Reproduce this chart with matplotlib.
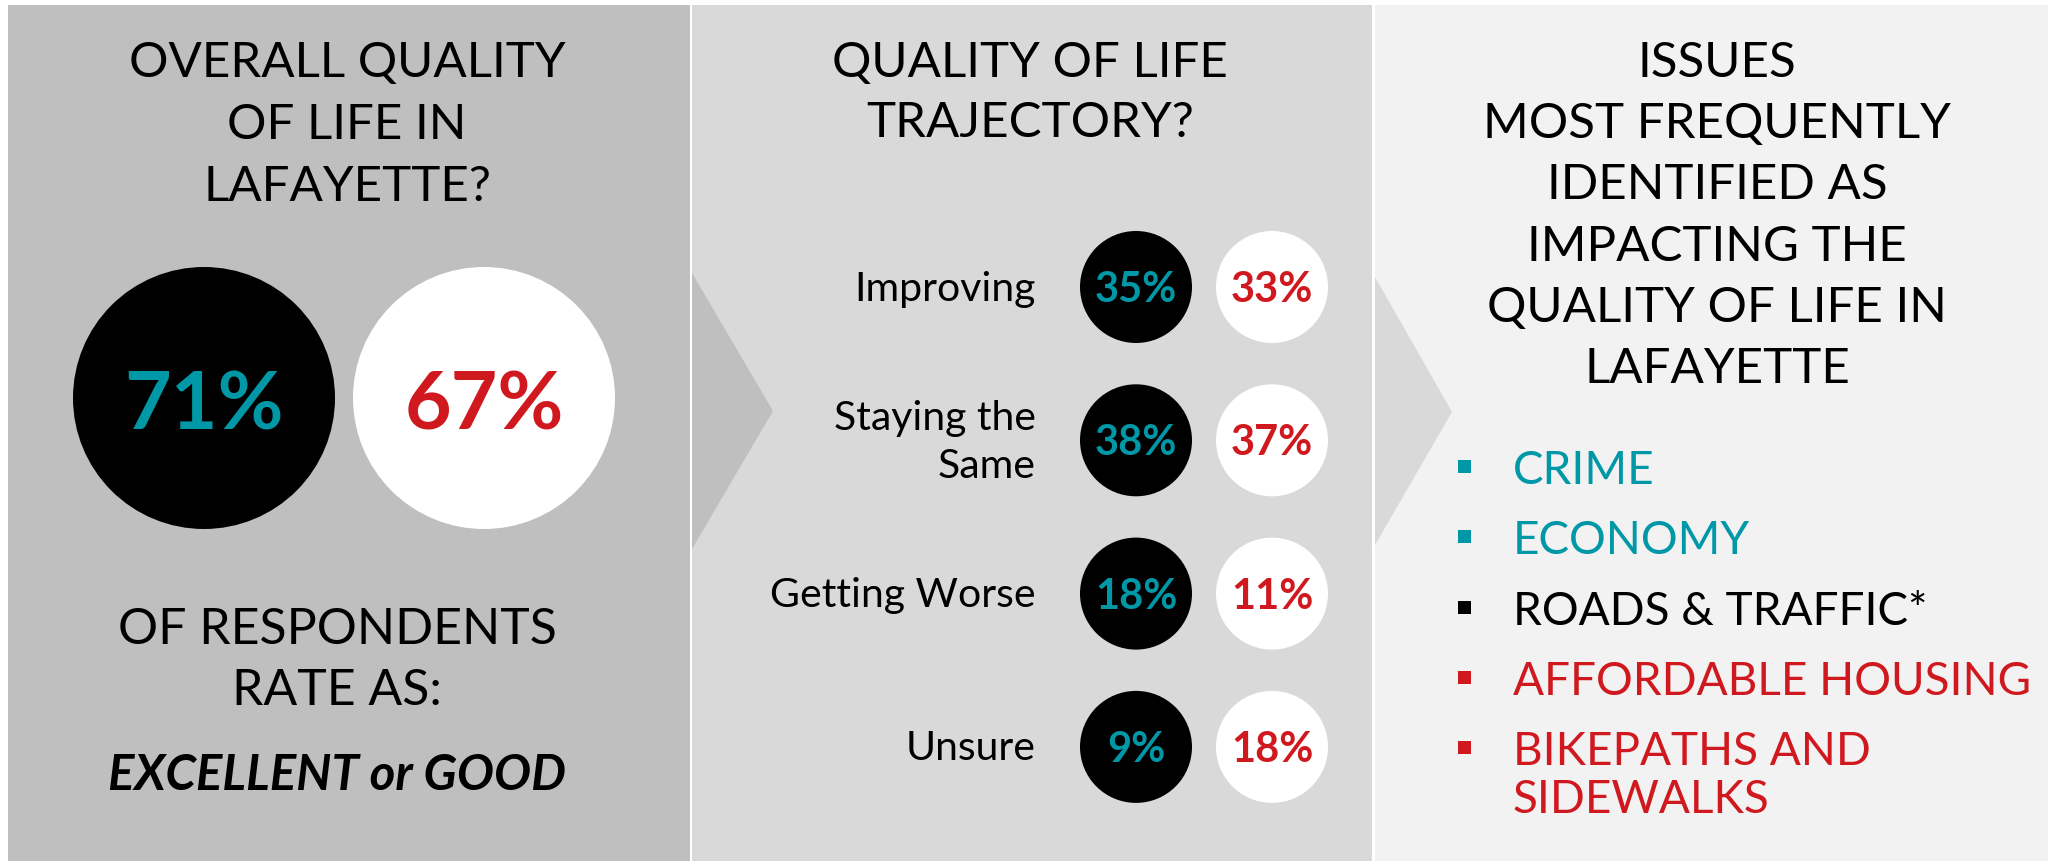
import matplotlib
matplotlib.use("Agg")
import matplotlib.pyplot as plt
from matplotlib.patches import Rectangle, Circle, Polygon

plt.rcParams["font.family"] = ["Lato", "DejaVu Sans"]

# --- data ---
overall_title = ["OVERALL QUALITY", "OF LIFE IN", "LAFAYETTE?"]
overall_values = ["71%", "67%"]
overall_caption = ["OF RESPONDENTS", "RATE AS:"]
overall_answer = "EXCELLENT or GOOD"

trajectory_title = ["QUALITY OF LIFE", "TRAJECTORY?"]
trajectory_labels = ["Improving", "Staying the\nSame", "Getting Worse", "Unsure"]
trajectory_black = [35, 38, 18, 9]
trajectory_white = [33, 37, 11, 18]

issues_title = ["ISSUES", "MOST FREQUENTLY", "IDENTIFIED AS",
                "IMPACTING THE", "QUALITY OF LIFE IN", "LAFAYETTE"]
issues = ["CRIME", "ECONOMY", "ROADS & TRAFFIC*",
          "AFFORDABLE HOUSING", "BIKEPATHS AND\nSIDEWALKS"]
issue_groups = ["teal", "teal", "black", "red", "red"]

# --- styles ---
TEAL = "#0097a7"
RED = "#d0191f"
colors = {"teal": TEAL, "black": "#000000", "red": RED}
P1, P2, P3 = "#bfbfbf", "#d9d9d9", "#f2f2f2"
TITLE_FS = 35.5

fig = plt.figure(figsize=(20.48, 8.61), dpi=100)
ax = fig.add_axes([0, 0, 1, 1])
ax.set_xlim(0, 2048)
ax.set_ylim(861, 0)
ax.axis("off")

# Panels
ax.add_patch(Rectangle((8, 5), 682, 856, color=P1, lw=0))
ax.add_patch(Rectangle((692, 5), 680, 856, color=P2, lw=0))
ax.add_patch(Rectangle((1375, 5), 673, 856, color=P3, lw=0))

# Chevron arrows between panels
ax.add_patch(Polygon([(692, 273), (773, 411), (692, 549)], color=P1, lw=0))
ax.add_patch(Polygon([(1375, 277), (1452, 412), (1375, 545)], color=P2, lw=0))

# ---- Panel 1 ----
for i, line in enumerate(overall_title):
    ax.text(347, 77 + 62 * i, line, ha="center", va="baseline",
            fontsize=TITLE_FS)

circle_r = 131
for i, (val, fc, tc) in enumerate(zip(overall_values, ["black", "white"],
                                      [TEAL, RED])):
    cx = 204 + 280 * i
    ax.add_patch(Circle((cx, 398), circle_r, color=fc, lw=0))
    ax.text(cx, 430, val, ha="center", va="baseline", fontsize=58,
            fontweight="bold", color=tc)

for i, line in enumerate(overall_caption):
    ax.text(337, 644 + 61 * i, line, ha="center", va="baseline", fontsize=36)
ax.text(337, 790, overall_answer, ha="center", va="baseline",
        fontsize=TITLE_FS, fontweight="bold", fontstyle="italic")

# ---- Panel 2 ----
for i, line in enumerate(trajectory_title):
    ax.text(1030, 77 + 60 * i, line, ha="center", va="baseline",
            fontsize=TITLE_FS)

row_r = 56
for i, (lab, b, w) in enumerate(zip(trajectory_labels, trajectory_black,
                                    trajectory_white)):
    cy = 287 + 153.3 * i
    ax.text(1036, cy + 2, lab, ha="right", va="center", fontsize=29.5,
            linespacing=1.35, multialignment="right")
    ax.add_patch(Circle((1136, cy), row_r, color="black", lw=0))
    ax.add_patch(Circle((1272, cy), row_r, color="white", lw=0))
    ax.text(1136, cy + 15, f"{b}%", ha="center", va="baseline", fontsize=30,
            fontweight="bold", color=TEAL)
    ax.text(1272, cy + 15, f"{w}%", ha="center", va="baseline", fontsize=30,
            fontweight="bold", color=RED)

# ---- Panel 3 ----
for i, line in enumerate(issues_title):
    ax.text(1717, 77 + 61.2 * i, line, ha="center", va="baseline",
            fontsize=TITLE_FS)

for i, (item, grp) in enumerate(zip(issues, issue_groups)):
    base = 484 + 70.3 * i
    c = colors[grp]
    ax.add_patch(Rectangle((1458, base - 24), 13, 13, color=c, lw=0))
    lines = item.split("\n")
    for j, line in enumerate(lines):
        ax.text(1513, base + 48 * j, line, ha="left", va="baseline",
                fontsize=33, color=c)

fig.savefig("out.png", dpi=100, facecolor="white")
